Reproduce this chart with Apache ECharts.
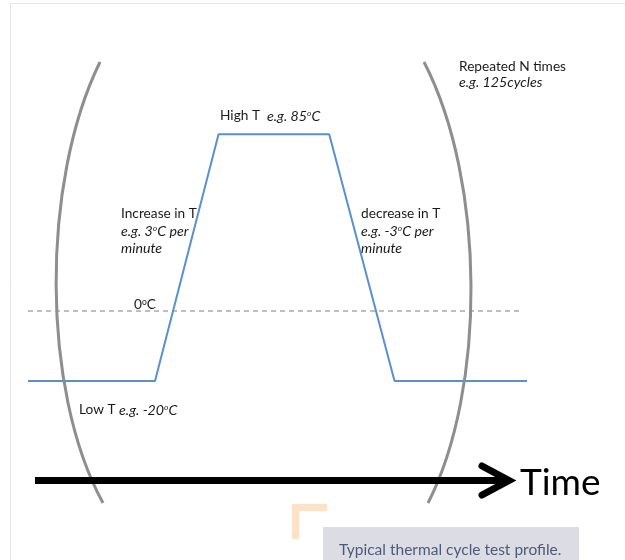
<!DOCTYPE html>
<html>
<head>
<meta charset="utf-8">
<script src="https://cdn.jsdelivr.net/npm/echarts@6/dist/echarts.min.js"></script>
<style>
html,body{margin:0;padding:0;background:#fff;}
#chart{width:625px;height:560px;}
</style>
</head>
<body>
<div id="chart"></div>
<script>
// schematic thermal profile (time in arbitrary minutes, temperature in schematic units)
const timePoints = [0, 70, 105, 166, 202, 275];
const tempPoints = [-20, -20, 50.5, 50.5, -20, -20];
const zeroLineTime = [0, 271];
const zeroLineTemp = [0, 0];
const captionText = 'Typical thermal cycle test profile.';
const axisName = 'Time';

const FONT = 'Lato';
const chart = echarts.init(document.getElementById('chart'), null, {renderer: 'canvas'});

const rich = {
  n: {fontFamily: FONT, fontSize: 13.7, color: '#1a1a1a', lineHeight: 16},
  i: {fontFamily: FONT, fontSize: 14.2, fontStyle: 'italic', color: '#1a1a1a', lineHeight: 16},
  s: {fontFamily: FONT, fontSize: 8.5, color: '#1a1a1a', lineHeight: 16, verticalAlign: 'top', padding: [1, 0, 0, 0]},
  si: {fontFamily: FONT, fontSize: 8.5, fontStyle: 'italic', color: '#1a1a1a', lineHeight: 16, verticalAlign: 'top', padding: [1, 0, 0, 0]}
};
function txt(x, y, text) {
  return {type: 'text', x: x, y: y, z: 10, style: {text: text, rich: rich, fontFamily: FONT, fontSize: 13.7, fill: '#1a1a1a', verticalAlign: 'middle', align: 'left'}};
}

const option = {
  animation: false,
  backgroundColor: '#ffffff',
  grid: {left: 28, top: 101, width: 499, height: 280},
  xAxis: {type: 'value', min: 0, max: 275, show: false},
  yAxis: {type: 'value', min: -20, max: 60, show: false},
  series: [
    {
      type: 'line', name: 'profile', clip: false, symbol: 'none', z: 3,
      data: timePoints.map((t, k) => [t, tempPoints[k]]),
      lineStyle: {color: '#5a8fd0', width: 2}
    },
    {
      type: 'line', name: 'zero', clip: false, symbol: 'none', z: 2,
      data: zeroLineTime.map((t, k) => [t, zeroLineTemp[k]]),
      lineStyle: {color: '#7f7f7f', width: 1.2, type: [5, 4]}
    }
  ],
  graphic: [
    // page border lines
    {type: 'line', shape: {x1: 10, y1: 3.5, x2: 625, y2: 3.5}, style: {stroke: '#e3e3e3', lineWidth: 1}},
    {type: 'line', shape: {x1: 10.5, y1: 3, x2: 10.5, y2: 560}, style: {stroke: '#e3e3e3', lineWidth: 1}},
    // brackets
    {type: 'bezierCurve', z: 5, shape: {x1: 100, y1: 62, cpx1: 41, cpy1: 182, cpx2: 41, cpy2: 390, x2: 103, y2: 503}, style: {stroke: '#8e8e8e', lineWidth: 3, fill: null}},
    {type: 'bezierCurve', z: 5, shape: {x1: 424, y1: 62, cpx1: 486, cpy1: 182, cpx2: 486, cpy2: 390, x2: 428, y2: 503}, style: {stroke: '#8e8e8e', lineWidth: 3, fill: null}},
    // time arrow
    {type: 'line', z: 6, shape: {x1: 35, y1: 480.5, x2: 506, y2: 480.5}, style: {stroke: '#000', lineWidth: 7}},
    {type: 'polyline', z: 6, shape: {points: [[482, 466], [509, 480.5], [482, 495]]}, style: {stroke: '#000', lineWidth: 7, lineCap: 'round', lineJoin: 'miter', fill: null}},
    {type: 'text', x: 520, y: 483, z: 6, style: {text: axisName, fontFamily: FONT, fontSize: 37, fill: '#000', verticalAlign: 'middle'}},
    // annotations
    txt(459, 67, '{n|Repeated N times}'),
    txt(459, 82.5, '{i|e.g. 125cycles}'),
    txt(220, 116, '{n|High T  }{i|e.g. 85}{si|o}{i|C}'),
    txt(121, 213.5, '{n|Increase in T}'),
    txt(121, 231, '{i|e.g. 3}{si|o}{i|C per}'),
    txt(121, 248.5, '{i|minute}'),
    txt(361, 213.5, '{n|decrease in T}'),
    txt(361, 231, '{i|e.g. -3}{si|o}{i|C per}'),
    txt(361, 248.5, '{i|minute}'),
    txt(134, 304.5, '{n|0}{s|o}{n|C}'),
    txt(79, 410, '{n|Low T }{i|e.g. -20}{si|o}{i|C}'),
    // caption decoration
    {type: 'rect', shape: {x: 292, y: 504, width: 35, height: 7}, style: {fill: '#fde2c7'}},
    {type: 'rect', shape: {x: 292, y: 504, width: 7, height: 35}, style: {fill: '#fde2c7'}},
    {type: 'rect', shape: {x: 323, y: 527, width: 256, height: 40}, style: {fill: '#dcdde4'}},
    {type: 'text', x: 339, y: 550, z: 6, style: {text: captionText, fontFamily: 'Lato', fontSize: 15.5, fill: '#4b5b77', verticalAlign: 'middle'}}
  ]
};
chart.setOption(option);
</script>
</body>
</html>
